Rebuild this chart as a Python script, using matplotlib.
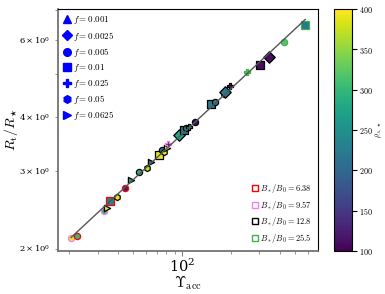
import numpy as np
import matplotlib
matplotlib.use('Agg')
import matplotlib.pyplot as plt
from matplotlib.lines import Line2D
from matplotlib.ticker import FuncFormatter

plt.rcParams['mathtext.fontset'] = 'cm'
plt.rcParams['font.family'] = 'serif'
plt.rcParams['font.serif'] = ['DejaVu Serif']

# data
upsilon = [20.6, 22.4, 32.8, 34.1, 35.9, 39.4, 44.4, 48.4, 54.4, 60.8, 64.3,
           72.1, 74.7, 77.4, 80.8, 82.3, 95.4, 101.9, 105.9, 110.9, 120.3,
           150.4, 160.0, 180.0, 184.5, 196.0, 251.0, 300.5, 345.0, 427.0, 575.0]
rt_rstar = [2.11, 2.14, 2.43, 2.48, 2.57, 2.62, 2.75, 2.87, 2.99, 3.06, 3.16,
            3.27, 3.35, 3.32, 3.39, 3.46, 3.64, 3.73, 3.76, 3.79, 3.90,
            4.28, 4.33, 4.51, 4.55, 4.70, 5.05, 5.26, 5.47, 5.94, 6.47]
rho_a = [390, 300, 300, 390, 230, 390, 120, 270, 290, 370, 220,
         390, 220, 390, 390, 130, 280, 220, 220, 270, 110,
         225, 220, 220, 220, 110, 320, 110, 110, 320, 220]
f_val = [0.005, 0.005, 0.005, 0.0625, 0.01, 0.05, 0.005, 0.0625, 0.005, 0.05, 0.0625,
         0.01, 0.005, 0.05, 0.0625, 0.025, 0.0025, 0.01, 0.005, 0.025, 0.005,
         0.01, 0.005, 0.05, 0.0025, 0.025, 0.025, 0.01, 0.0025, 0.005, 0.01]
b_ratio = [9.57, 6.38, 9.57, 12.8, 6.38, 12.8, 6.38, 12.8, 12.8, 12.8, 12.8,
           12.8, 12.8, 12.8, 12.8, 9.57, 12.8, 12.8, 12.8, 12.8, 12.8,
           12.8, 12.8, 12.8, 12.8, 12.8, 25.5, 12.8, 12.8, 25.5, 25.5]

f_list = [0.001, 0.0025, 0.005, 0.01, 0.025, 0.05, 0.0625]
f_markers = ['^', 'D', 'o', 's', 'P', 'h', '>']
b_list = [6.38, 9.57, 12.8, 25.5]
b_colors = ['red', 'violet', 'black', '#3cb44b']

fig = plt.figure(figsize=(3.85, 2.94), dpi=100)
ax = fig.add_axes([0.1506, 0.1463, 0.6754, 0.8231])
cax = fig.add_axes([0.8675, 0.1463, 0.0468, 0.8231])

for i in range(len(upsilon)):
    m = f_markers[f_list.index(f_val[i])]
    ec = b_colors[b_list.index(b_ratio[i])]
    s = 34 if m in ('s', 'D') else 20
    sc = ax.scatter(upsilon[i], rt_rstar[i], c=[rho_a[i]], cmap='viridis',
                    vmin=100, vmax=400, marker=m, s=s, edgecolors=ec,
                    linewidths=0.9, zorder=2)

# power-law fit through the points
p = np.polyfit(np.log10(upsilon), np.log10(rt_rstar), 1)
xf = np.array([min(upsilon), max(upsilon)])
ax.plot(xf, 10**np.polyval(p, np.log10(xf)), color='#555555', lw=1, zorder=3)

ax.set_xscale('log')
ax.set_yscale('log')
ax.set_xlim(17.1, 690)
ax.set_ylim(1.974, 7.05)
ax.set_xlabel(r'$\Upsilon_{\rm acc}$', fontsize=10.5, labelpad=-1)
ax.set_ylabel(r'$R_{\rm t}/R_\star$', fontsize=10)
ax.yaxis.set_label_coords(-0.145, 0.5)
ax.tick_params(axis='x', which='major', labelsize=10.5, color='0.5', pad=1)
ax.tick_params(axis='both', which='minor', labelsize=6, color='0.5')
ax.tick_params(axis='y', which='major', labelsize=6, color='0.5')
for side in ['left', 'bottom']:
    ax.spines[side].set_color('0.45')
    ax.spines[side].set_linewidth(1.3)

h1 = [Line2D([], [], ls='', marker=m, color='blue', markersize=5.5,
             label=r'$f = %s$' % f) for m, f in zip(f_markers, f_list)]
leg1 = ax.legend(handles=h1, loc='upper left', frameon=False, fontsize=6.5,
                 handlelength=0.8, handletextpad=0.3, labelspacing=0.35,
                 borderaxespad=0.2)
ax.add_artist(leg1)
h2 = [Line2D([], [], ls='', marker='s', markerfacecolor='none',
             markeredgecolor=c, markersize=5, label=r'$B_*/B_0 = %s$' % b)
      for c, b in zip(b_colors, b_list)]
ax.legend(handles=h2, loc='lower right', frameon=False, fontsize=6,
          handlelength=0.8, handletextpad=0.3, labelspacing=0.45,
          borderaxespad=0.3)

cb = fig.colorbar(sc, cax=cax)
cb.set_ticks([100, 150, 200, 250, 300, 350, 400])
cb.ax.yaxis.set_major_formatter(FuncFormatter(lambda v, pos: r'$%d$' % v))
cb.ax.tick_params(labelsize=5.8, pad=1.5)
cb.set_label(r'$\rho_{A,\star}$', fontsize=5.5)
cb.ax.yaxis.set_label_coords(2.2, 0.5)

fig.savefig('out.png', dpi=100)
